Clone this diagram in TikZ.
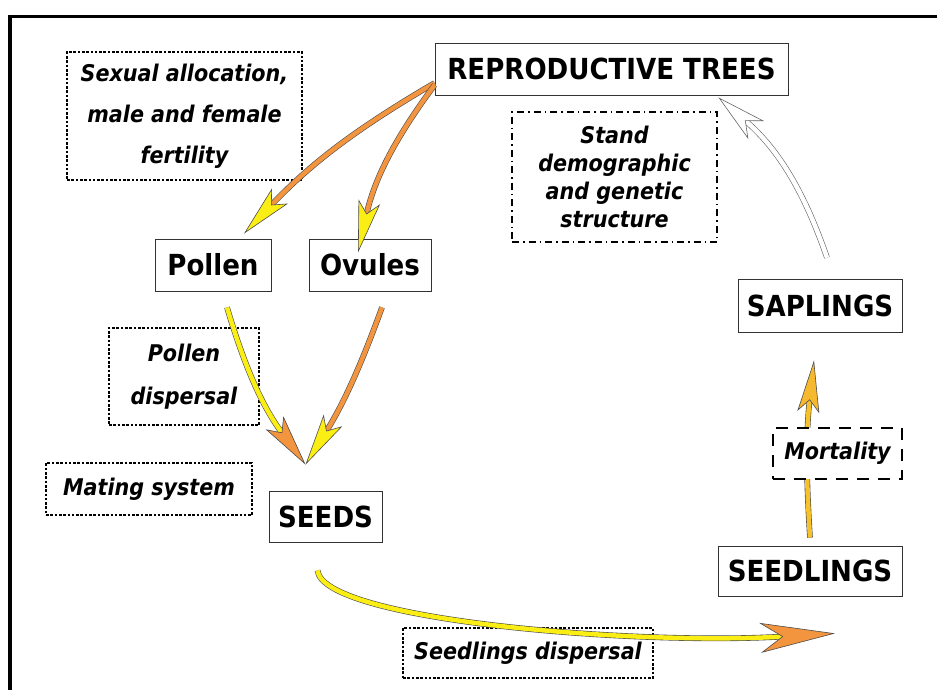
\documentclass[tikz,border=0pt]{standalone}
\usepackage{fontspec}
\setmainfont{DejaVu Sans Condensed}
\usetikzlibrary{arrows.meta,calc}

\definecolor{arrowyellow}{RGB}{250,238,20}
\definecolor{arroworange}{RGB}{243,148,62}

\begin{document}
\begin{tikzpicture}[x=1pt, y=-1pt,
    stage/.style={draw=black!80, line width=0.8pt, fill=white, minimum height=52pt, font=\fontsize{29}{34}\selectfont\bfseries},
    note/.style={line width=2pt, fill=white, align=center, font=\fontsize{23}{28}\selectfont\bfseries\itshape},
    dots/.style={note, draw, line width=2.6pt, dash pattern=on 2.6pt off 1.7pt},
    flow/.style 2 args={draw=black!70, line width=0.6pt, double=#1, double distance=4.5pt, -{Stealth[length=52pt, width=22pt, inset=12pt, fill=#2]}}]
    \useasboundingbox (0,0) rectangle (937,689);
    \draw[line width=3.3pt] (10,700) -- (10,16.5) -- (950,16.5);

    \node[stage, minimum width=353pt] (rt) at (611.5,69) {REPRODUCTIVE TREES};
    \node[stage, minimum width=116pt] (pollen) at (213,265) {Pollen};
    \node[stage, minimum width=122pt] (ovules) at (370,265) {Ovules};
    \node[stage, minimum width=113pt, minimum height=51pt] (seeds) at (325.5,516.5) {SEEDS};
    \node[stage, minimum width=184pt, minimum height=50pt] (seedlings) at (810,571) {SEEDLINGS};
    \node[stage, minimum width=164pt, minimum height=53pt] (saplings) at (820,305.5) {SAPLINGS};

    \node[dots, minimum width=235pt, minimum height=128pt] (alloc) at (184.5,116) {Sexual allocation,\\[13pt] male and female\\[13pt] fertility};
    \node[note, draw, dash pattern=on 7pt off 4pt on 1.5pt off 4pt, line width=1.2pt, minimum width=205pt, minimum height=130pt] (stand) at (614.5,177) {Stand\\demographic\\and genetic\\structure};
    \node[dots, minimum width=150pt, minimum height=97pt] (pdisp) at (184,376.5) {Pollen\\[15pt] dispersal};
    \node[dots, minimum width=206pt, minimum height=52pt] (mating) at (149,489) {Mating system};
    \node[dots, minimum width=250pt, minimum height=50pt] (sdisp) at (528,653) {Seedlings dispersal};

    \draw[flow={arroworange}{arrowyellow}] ([yshift=-14pt]rt.west) to[bend right=8] ([xshift=31pt,yshift=5pt]pollen.north);
    \draw[flow={arroworange}{arrowyellow}] ([yshift=-16pt]rt.west) to[bend right=12] ([xshift=-12pt,yshift=-14pt]ovules.north);
    \draw[flow={arrowyellow}{arroworange}] ([xshift=14pt,yshift=-16pt]pollen.south) to[bend right=10] ([xshift=-20pt,yshift=26pt]seeds.north);
    \draw[flow={arroworange}{arrowyellow}] ([xshift=12pt,yshift=-16pt]ovules.south) to[bend left=6] ([xshift=-20pt,yshift=26pt]seeds.north);
    \draw[flow={arrowyellow}{arroworange}, -{Stealth[length=75pt, width=30pt, inset=22pt, fill=arroworange]}] ([xshift=-8pt,yshift=-28pt]seeds.south) .. controls +(5,50) and +(-200,12) .. ([xshift=25pt,yshift=-37pt]seedlings.south);
    \draw[flow={arrowyellow!50!arroworange}{arroworange!60!arrowyellow}] ([yshift=8pt]seedlings.north) to[bend left=5] ([xshift=-6pt,yshift=-28pt]saplings.south);
    \draw[flow={white}{white}, draw=black!60, -{Stealth[length=50pt, width=24pt, inset=14pt, fill=white]}] ([xshift=7pt,yshift=21pt]saplings.north) to[bend right=15] ([xshift=-70pt,yshift=-2pt]rt.south east);

    \node[note, draw, dash pattern=on 12pt off 9pt, minimum width=129pt, minimum height=51pt] (mort) at (837.5,453.5) {Mortality};
\end{tikzpicture}
\end{document}
